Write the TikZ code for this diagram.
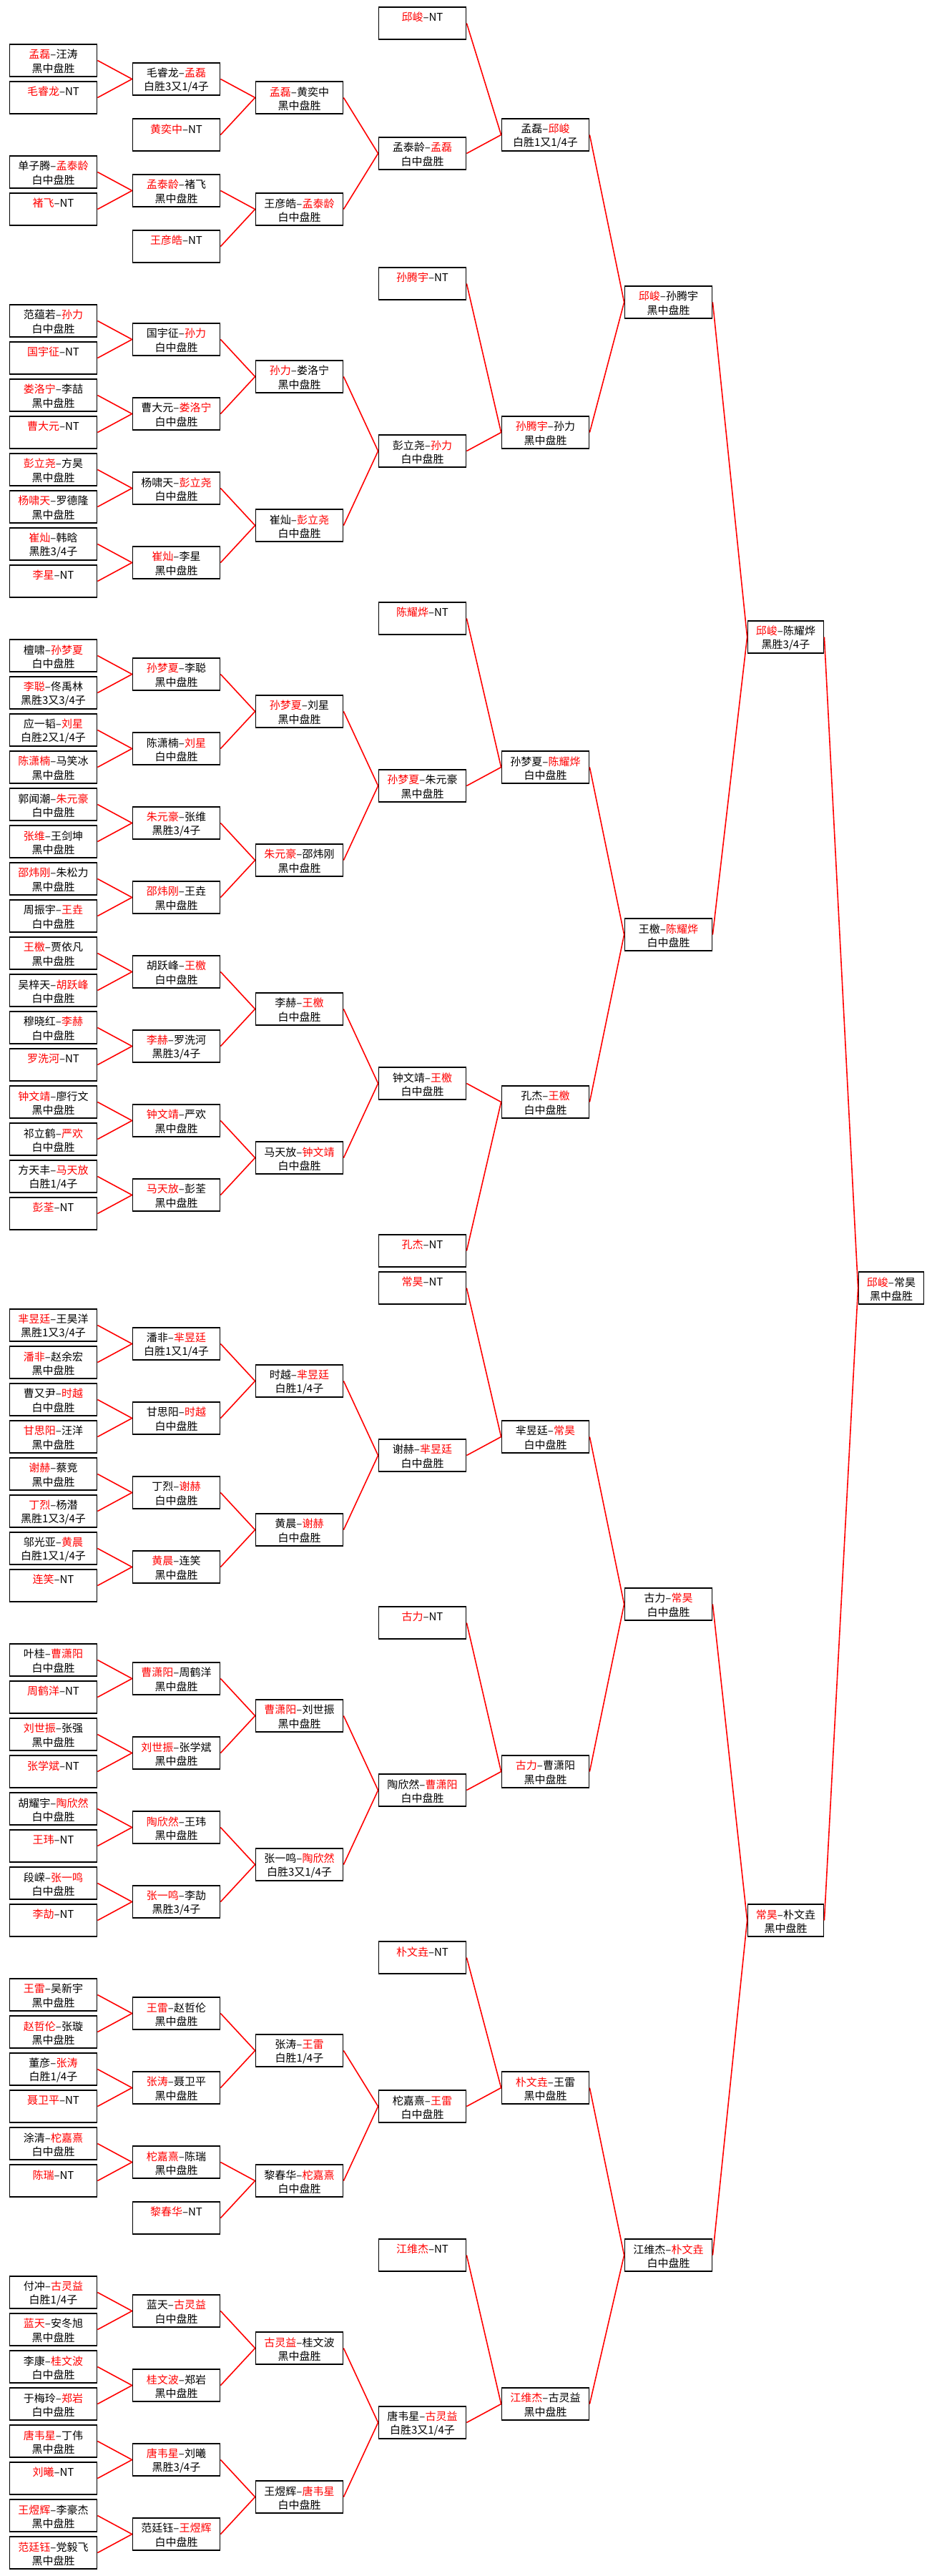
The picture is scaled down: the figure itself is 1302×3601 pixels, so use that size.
\documentclass[tikz,border=0pt]{standalone}
\usepackage{fontspec}
\setmainfont{Noto Sans CJK SC}
\newcommand\rn[1]{\textcolor{red}{#1}}
\newcommand\ntv{\vphantom{黑}}
\tikzset{
  box/.style={draw=black,line width=1.8,minimum height=45,inner sep=0,rectangle},
  txt/.style={inner sep=0,align=center,font=\fontsize{15}{19.5}\selectfont},
  link/.style={draw=red,line width=1.6}
}
\newcommand\bx[6]{%
  \node[box,minimum width=#3] (#1) at ({#2+#3/2},{-(32.5+52*#4)}) {};
  \node[txt] (#1t) at ([yshift=-1.5]#1.center) {#5\\#6};}
\newcommand\cA[4]{\bx{#1}{13.5}{122}{#2}{#3}{#4}}
\newcommand\cB[4]{\bx{#1}{185.5}{122}{#2}{#3}{#4}}
\newcommand\cC[4]{\bx{#1}{357.5}{122}{#2}{#3}{#4}}
\newcommand\cD[4]{\bx{#1}{529.5}{122}{#2}{#3}{#4}}
\newcommand\cE[4]{\bx{#1}{701.5}{122}{#2}{#3}{#4}}
\newcommand\cF[4]{\bx{#1}{873.5}{122}{#2}{#3}{#4}}
\newcommand\cG[4]{\bx{#1}{1045.5}{106}{#2}{#3}{#4}}
\newcommand\cH[4]{\bx{#1}{1200.5}{91}{#2}{#3}{#4}}
\begin{document}
\begin{tikzpicture}[x=1pt,y=1pt]
\fill[white] (0,0) rectangle (1302,-3601);
\useasboundingbox (0,0) rectangle (1302,-3601);
% ---------- column 1 ----------
\cA{A1}{1}{\rn{孟磊}–汪涛}{黑中盘胜}
\cA{A2}{2}{\rn{毛睿龙}–NT}{\ntv}
\cA{A3}{4}{单子腾–\rn{孟泰龄}}{白中盘胜}
\cA{A4}{5}{\rn{褚飞}–NT}{\ntv}
\cA{A5}{8}{范蕴若–\rn{孙力}}{白中盘胜}
\cA{A6}{9}{\rn{国宇征}–NT}{\ntv}
\cA{A7}{10}{\rn{娄洛宁}–李喆}{黑中盘胜}
\cA{A8}{11}{\rn{曹大元}–NT}{\ntv}
\cA{A9}{12}{\rn{彭立尧}–方昊}{黑中盘胜}
\cA{A10}{13}{\rn{杨啸天}–罗德隆}{黑中盘胜}
\cA{A11}{14}{\rn{崔灿}–韩晗}{黑胜3/4子}
\cA{A12}{15}{\rn{李星}–NT}{\ntv}
\cA{A13}{17}{檀啸–\rn{孙梦夏}}{白中盘胜}
\cA{A14}{18}{\rn{李聪}–佟禹林}{黑胜3又3/4子}
\cA{A15}{19}{应一韬–\rn{刘星}}{白胜2又1/4子}
\cA{A16}{20}{\rn{陈潇楠}–马笑冰}{黑中盘胜}
\cA{A17}{21}{郭闻潮–\rn{朱元豪}}{白中盘胜}
\cA{A18}{22}{\rn{张维}–王剑坤}{黑中盘胜}
\cA{A19}{23}{\rn{邵炜刚}–朱松力}{黑中盘胜}
\cA{A20}{24}{周振宇–\rn{王垚}}{白中盘胜}
\cA{A21}{25}{\rn{王檄}–贾依凡}{黑中盘胜}
\cA{A22}{26}{吴梓天–\rn{胡跃峰}}{白中盘胜}
\cA{A23}{27}{穆晓红–\rn{李赫}}{白中盘胜}
\cA{A24}{28}{\rn{罗洗河}–NT}{\ntv}
\cA{A25}{29}{\rn{钟文靖}–廖行文}{黑中盘胜}
\cA{A26}{30}{祁立鹤–\rn{严欢}}{白中盘胜}
\cA{A27}{31}{方天丰–\rn{马天放}}{白胜1/4子}
\cA{A28}{32}{\rn{彭荃}–NT}{\ntv}
\cA{A29}{35}{\rn{芈昱廷}–王昊洋}{黑胜1又3/4子}
\cA{A30}{36}{\rn{潘非}–赵余宏}{黑中盘胜}
\cA{A31}{37}{曹又尹–\rn{时越}}{白中盘胜}
\cA{A32}{38}{\rn{甘思阳}–汪洋}{黑中盘胜}
\cA{A33}{39}{\rn{谢赫}–蔡竞}{黑中盘胜}
\cA{A34}{40}{\rn{丁烈}–杨潜}{黑胜1又3/4子}
\cA{A35}{41}{邬光亚–\rn{黄晨}}{白胜1又1/4子}
\cA{A36}{42}{\rn{连笑}–NT}{\ntv}
\cA{A37}{44}{叶桂–\rn{曹潇阳}}{白中盘胜}
\cA{A38}{45}{\rn{周鹤洋}–NT}{\ntv}
\cA{A39}{46}{\rn{刘世振}–张强}{黑中盘胜}
\cA{A40}{47}{\rn{张学斌}–NT}{\ntv}
\cA{A41}{48}{胡耀宇–\rn{陶欣然}}{白中盘胜}
\cA{A42}{49}{\rn{王玮}–NT}{\ntv}
\cA{A43}{50}{段嵘–\rn{张一鸣}}{白中盘胜}
\cA{A44}{51}{\rn{李劼}–NT}{\ntv}
\cA{A45}{53}{\rn{王雷}–吴新宇}{黑中盘胜}
\cA{A46}{54}{\rn{赵哲伦}–张璇}{黑中盘胜}
\cA{A47}{55}{董彦–\rn{张涛}}{白胜1/4子}
\cA{A48}{56}{\rn{聂卫平}–NT}{\ntv}
\cA{A49}{57}{涂清–\rn{柁嘉熹}}{白中盘胜}
\cA{A50}{58}{\rn{陈瑞}–NT}{\ntv}
\cA{A51}{61}{付冲–\rn{古灵益}}{白胜1/4子}
\cA{A52}{62}{\rn{蓝天}–安冬旭}{黑中盘胜}
\cA{A53}{63}{李康–\rn{桂文波}}{白中盘胜}
\cA{A54}{64}{于梅玲–\rn{郑岩}}{白中盘胜}
\cA{A55}{65}{\rn{唐韦星}–丁伟}{黑中盘胜}
\cA{A56}{66}{\rn{刘曦}–NT}{\ntv}
\cA{A57}{67}{\rn{王煜辉}–李豪杰}{黑中盘胜}
\cA{A58}{68}{\rn{范廷钰}–党毅飞}{黑中盘胜}
% ---------- column 2 ----------
\cB{B1}{1.5}{毛睿龙–\rn{孟磊}}{白胜3又1/4子}
\cB{B2}{3}{\rn{黄奕中}–NT}{\ntv}
\cB{B3}{4.5}{\rn{孟泰龄}–褚飞}{黑中盘胜}
\cB{B4}{6}{\rn{王彦皓}–NT}{\ntv}
\cB{B5}{8.5}{国宇征–\rn{孙力}}{白中盘胜}
\cB{B6}{10.5}{曹大元–\rn{娄洛宁}}{白中盘胜}
\cB{B7}{12.5}{杨啸天–\rn{彭立尧}}{白中盘胜}
\cB{B8}{14.5}{\rn{崔灿}–李星}{黑中盘胜}
\cB{B9}{17.5}{\rn{孙梦夏}–李聪}{黑中盘胜}
\cB{B10}{19.5}{陈潇楠–\rn{刘星}}{白中盘胜}
\cB{B11}{21.5}{\rn{朱元豪}–张维}{黑胜3/4子}
\cB{B12}{23.5}{\rn{邵炜刚}–王垚}{黑中盘胜}
\cB{B13}{25.5}{胡跃峰–\rn{王檄}}{白中盘胜}
\cB{B14}{27.5}{\rn{李赫}–罗洗河}{黑胜3/4子}
\cB{B15}{29.5}{\rn{钟文靖}–严欢}{黑中盘胜}
\cB{B16}{31.5}{\rn{马天放}–彭荃}{黑中盘胜}
\cB{B17}{35.5}{潘非–\rn{芈昱廷}}{白胜1又1/4子}
\cB{B18}{37.5}{甘思阳–\rn{时越}}{白中盘胜}
\cB{B19}{39.5}{丁烈–\rn{谢赫}}{白中盘胜}
\cB{B20}{41.5}{\rn{黄晨}–连笑}{黑中盘胜}
\cB{B21}{44.5}{\rn{曹潇阳}–周鹤洋}{黑中盘胜}
\cB{B22}{46.5}{\rn{刘世振}–张学斌}{黑中盘胜}
\cB{B23}{48.5}{\rn{陶欣然}–王玮}{黑中盘胜}
\cB{B24}{50.5}{\rn{张一鸣}–李劼}{黑胜3/4子}
\cB{B25}{53.5}{\rn{王雷}–赵哲伦}{黑中盘胜}
\cB{B26}{55.5}{\rn{张涛}–聂卫平}{黑中盘胜}
\cB{B27}{57.5}{\rn{柁嘉熹}–陈瑞}{黑中盘胜}
\cB{B28}{59}{\rn{黎春华}–NT}{\ntv}
\cB{B29}{61.5}{蓝天–\rn{古灵益}}{白中盘胜}
\cB{B30}{63.5}{\rn{桂文波}–郑岩}{黑中盘胜}
\cB{B31}{65.5}{\rn{唐韦星}–刘曦}{黑胜3/4子}
\cB{B32}{67.5}{范廷钰–\rn{王煜辉}}{白中盘胜}
% ---------- column 3 ----------
\cC{C1}{2}{\rn{孟磊}–黄奕中}{黑中盘胜}
\cC{C2}{5}{王彦皓–\rn{孟泰龄}}{白中盘胜}
\cC{C3}{9.5}{\rn{孙力}–娄洛宁}{黑中盘胜}
\cC{C4}{13.5}{崔灿–\rn{彭立尧}}{白中盘胜}
\cC{C5}{18.5}{\rn{孙梦夏}–刘星}{黑中盘胜}
\cC{C6}{22.5}{\rn{朱元豪}–邵炜刚}{黑中盘胜}
\cC{C7}{26.5}{李赫–\rn{王檄}}{白中盘胜}
\cC{C8}{30.5}{马天放–\rn{钟文靖}}{白中盘胜}
\cC{C9}{36.5}{时越–\rn{芈昱廷}}{白胜1/4子}
\cC{C10}{40.5}{黄晨–\rn{谢赫}}{白中盘胜}
\cC{C11}{45.5}{\rn{曹潇阳}–刘世振}{黑中盘胜}
\cC{C12}{49.5}{张一鸣–\rn{陶欣然}}{白胜3又1/4子}
\cC{C13}{54.5}{张涛–\rn{王雷}}{白胜1/4子}
\cC{C14}{58}{黎春华–\rn{柁嘉熹}}{白中盘胜}
\cC{C15}{62.5}{\rn{古灵益}–桂文波}{黑中盘胜}
\cC{C16}{66.5}{王煜辉–\rn{唐韦星}}{白中盘胜}
% ---------- column 4 ----------
\cD{D1}{0}{\rn{邱峻}–NT}{\ntv}
\cD{D2}{3.5}{孟泰龄–\rn{孟磊}}{白中盘胜}
\cD{D3}{7}{\rn{孙腾宇}–NT}{\ntv}
\cD{D4}{11.5}{彭立尧–\rn{孙力}}{白中盘胜}
\cD{D5}{16}{\rn{陈耀烨}–NT}{\ntv}
\cD{D6}{20.5}{\rn{孙梦夏}–朱元豪}{黑中盘胜}
\cD{D7}{28.5}{钟文靖–\rn{王檄}}{白中盘胜}
\cD{D8}{33}{\rn{孔杰}–NT}{\ntv}
\cD{D9}{34}{\rn{常昊}–NT}{\ntv}
\cD{D10}{38.5}{谢赫–\rn{芈昱廷}}{白中盘胜}
\cD{D11}{43}{\rn{古力}–NT}{\ntv}
\cD{D12}{47.5}{陶欣然–\rn{曹潇阳}}{白中盘胜}
\cD{D13}{52}{\rn{朴文垚}–NT}{\ntv}
\cD{D14}{56}{柁嘉熹–\rn{王雷}}{白中盘胜}
\cD{D15}{60}{\rn{江维杰}–NT}{\ntv}
\cD{D16}{64.5}{唐韦星–\rn{古灵益}}{白胜3又1/4子}
% ---------- column 5 ----------
\cE{E1}{3}{孟磊–\rn{邱峻}}{白胜1又1/4子}
\cE{E2}{11}{\rn{孙腾宇}–孙力}{黑中盘胜}
\cE{E3}{20}{孙梦夏–\rn{陈耀烨}}{白中盘胜}
\cE{E4}{29}{孔杰–\rn{王檄}}{白中盘胜}
\cE{E5}{38}{芈昱廷–\rn{常昊}}{白中盘胜}
\cE{E6}{47}{\rn{古力}–曹潇阳}{黑中盘胜}
\cE{E7}{55.5}{\rn{朴文垚}–王雷}{黑中盘胜}
\cE{E8}{64}{\rn{江维杰}–古灵益}{黑中盘胜}
% ---------- column 6 ----------
\cF{F1}{7.5}{\rn{邱峻}–孙腾宇}{黑中盘胜}
\cF{F2}{24.5}{王檄–\rn{陈耀烨}}{白中盘胜}
\cF{F3}{42.5}{古力–\rn{常昊}}{白中盘胜}
\cF{F4}{60}{江维杰–\rn{朴文垚}}{白中盘胜}
% ---------- column 7, 8 ----------
\cG{G1}{16.5}{\rn{邱峻}–陈耀烨}{黑胜3/4子}
\cG{G2}{51}{\rn{常昊}–朴文垚}{黑中盘胜}
\cH{H1}{34}{\rn{邱峻}–常昊}{黑中盘胜}
% ---------- connectors ----------
\foreach \p/\c in {A1/B1,A2/B1,A3/B3,A4/B3,A5/B5,A6/B5,A7/B6,A8/B6,A9/B7,A10/B7,
  A11/B8,A12/B8,A13/B9,A14/B9,A15/B10,A16/B10,A17/B11,A18/B11,A19/B12,A20/B12,
  A21/B13,A22/B13,A23/B14,A24/B14,A25/B15,A26/B15,A27/B16,A28/B16,A29/B17,A30/B17,
  A31/B18,A32/B18,A33/B19,A34/B19,A35/B20,A36/B20,A37/B21,A38/B21,A39/B22,A40/B22,
  A41/B23,A42/B23,A43/B24,A44/B24,A45/B25,A46/B25,A47/B26,A48/B26,A49/B27,A50/B27,
  A51/B29,A52/B29,A53/B30,A54/B30,A55/B31,A56/B31,A57/B32,A58/B32,
  B1/C1,B2/C1,B3/C2,B4/C2,B5/C3,B6/C3,B7/C4,B8/C4,B9/C5,B10/C5,B11/C6,B12/C6,
  B13/C7,B14/C7,B15/C8,B16/C8,B17/C9,B18/C9,B19/C10,B20/C10,B21/C11,B22/C11,
  B23/C12,B24/C12,B25/C13,B26/C13,B27/C14,B28/C14,B29/C15,B30/C15,B31/C16,B32/C16,
  C1/D2,C2/D2,C3/D4,C4/D4,C5/D6,C6/D6,C7/D7,C8/D7,C9/D10,C10/D10,C11/D12,C12/D12,
  C13/D14,C14/D14,C15/D16,C16/D16,
  D1/E1,D2/E1,D3/E2,D4/E2,D5/E3,D6/E3,D7/E4,D8/E4,D9/E5,D10/E5,D11/E6,D12/E6,
  D13/E7,D14/E7,D15/E8,D16/E8,
  E1/F1,E2/F1,E3/F2,E4/F2,E5/F3,E6/F3,E7/F4,E8/F4,
  F1/G1,F2/G1,F3/G2,F4/G2,G1/H1,G2/H1}
  \draw[link] (\p.east) -- (\c.west);
\end{tikzpicture}
\end{document}
